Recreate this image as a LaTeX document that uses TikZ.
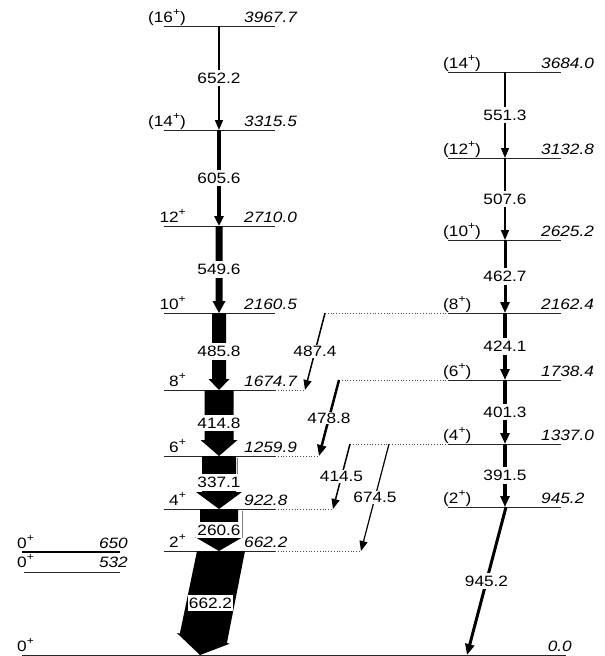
\documentclass[tikz,border=0pt]{standalone}
\usepackage{fontspec}
\setmainfont{Liberation Sans}[FakeStretch=1.15]
\usetikzlibrary{arrows.meta,calc}

\newcommand{\parity}{\raisebox{0.42em}{\fontsize{10.5}{11}\selectfont+}}
% wide transition: top, tip, half width, half head width, head length
\newcommand{\fatgamma}[5]{%
  \coordinate (hb) at ($(#2)!#5pt!(#1)$);
  \fill ($(#1)+(-#3,0)$) -- ($(hb)!#3pt!-90:(#2)$) -- ($(hb)!#4pt!-90:(#2)$) -- (#2)
    -- ($(hb)!#4pt!90:(#2)$) -- ($(hb)!#3pt!90:(#2)$) -- ($(#1)+(#3,0)$) -- cycle;
}

\begin{document}
\begin{tikzpicture}[
    x=1pt, y=-1pt,
    lvl/.style={line width=0.8pt, black!85},
    link/.style={dotted, line width=0.8pt, black!70},
    spin/.style={inner sep=0pt, font=\fontsize{15}{18}\selectfont},
    enrg/.style={inner sep=0pt, font=\fontsize{15}{18}\selectfont\itshape},
    tlab/.style={fill=white, inner xsep=1pt, inner ysep=3pt, font=\fontsize{15}{18}\selectfont},
    gam/.style={-{Triangle[length=10pt,width=8pt]}, line width=1.5pt},
    gamb/.style={-{Triangle[length=11pt,width=9pt]}, line width=3.5pt}
]
\useasboundingbox (0,0) rectangle (605,656);

% yrast band
\foreach \n/\y/\s/\e in {16/26/{(16\parity)}/3967.7, 14/130/{(14\parity)}/3315.5,
    12/226/{12\parity}/2710.0, 10/313/{10\parity}/2160.5, 8/390/{8\parity}/1674.7,
    6/456/{6\parity}/1259.9, 4/509/{4\parity}/922.8, 2/551/{2\parity}/662.2} {
  \coordinate (a\n) at (219,\y);
  \draw[lvl] ([xshift=-55pt]a\n) -- ([xshift=56pt]a\n);
  \node[spin, anchor=base east] (as\n) at (186,\y-4) {\s};
  \node[enrg, anchor=base west] (ae\n) at (244,\y-4) {\e};
}

% side band
\foreach \n/\y/\e in {14/72/3684.0, 12/158/3132.8, 10/240/2625.2, 8/313/2162.4,
    6/380/1738.4, 4/444/1337.0, 2/507/945.2} {
  \coordinate (b\n) at (505,\y);
  \draw[lvl] ([xshift=-57pt]b\n) -- ([xshift=56pt]b\n);
  \node[spin, anchor=base west] (bs\n) at (443,\y-4) {(\n\parity)};
  \node[enrg, anchor=base west] (be\n) at (541,\y-4) {\e};
}

% ground state and excited 0+ states
\coordinate (g0) at (22,655);
\coordinate (gA) at (200,655);
\coordinate (gB) at (467,655);
\draw[lvl] (g0) -- (566,655);
\node[spin, anchor=base west] (gs) at (17,651) {0\parity};
\node[enrg, anchor=base east] (ge) at (572,651) {0.0};
\coordinate (z650) at (22,552);
\draw[line width=1.2pt] (z650) -- (120,552);
\node[spin, anchor=base west] (zs650) at (17,548) {0\parity};
\node[enrg, anchor=base east] (ze650) at (128,548) {650};
\coordinate (z532) at (24,572);
\draw[lvl] (z532) -- (120,572);
\node[spin, anchor=base west] (zs532) at (17,567) {0\parity};
\node[enrg, anchor=base east] (ze532) at (128,567) {532};

% yrast transitions
\draw[gam] (a16) -- node[tlab] {652.2} (a14);
\draw[gam, line width=4pt, -{Triangle[length=10pt,width=9pt]}] (a14) -- node[tlab] {605.6} (a12);
\fatgamma{a12}{a10}{3.5}{6.5}{12}
\fatgamma{a10}{a8}{7}{10.5}{11}
\fatgamma{a8}{a6}{14.5}{18.5}{16}
\fatgamma{a6}{a4}{17}{23}{17}
\fatgamma{a4}{a2}{19}{24}{14}
\coordinate (a2s) at ([xshift=2pt]a2);
\fatgamma{a2s}{gA}{24}{27}{17}
\draw[black!50, line width=0.6pt] (237,458) -- (237,490);
\draw[black!50, line width=0.6pt] (242,511) -- (242,538);
\node[tlab] at ($(a12)!.5!(a10)$) {549.6};
\node[tlab] at ($(a10)!.5!(a8)$) {485.8};
\node[tlab] at ($(a8)!.5!(a6)$) {414.8};
\node[tlab] at ($(a6)!.5!(a4)$) {337.1};
\node[tlab] at ($(a4)!.5!(a2)$) {260.6};
\node[tlab] at ($(a2s)!.5!(gA)$) {662.2};

% side band transitions
\draw[gam, line width=1.2pt] (b14) -- node[tlab] {551.3} (b12);
\draw[gam] (b12) -- node[tlab] {507.6} (b10);
\draw[gamb, line width=3pt] (b10) -- node[tlab] {462.7} (b8);
\draw[gamb] (b8) -- node[tlab] {424.1} (b6);
\draw[gamb] (b6) -- node[tlab] {401.3} (b4);
\draw[gamb, line width=4pt] (b4) -- node[tlab] {391.5} (b2);
\draw[gamb, line width=3pt] ([xshift=1pt]b2) -- node[tlab] {945.2} (gB);

% interband transitions
\coordinate (t487a) at (325,313);
\coordinate (t487b) at (305,390);
\coordinate (t478a) at (339,380);
\coordinate (t478b) at (319,456);
\coordinate (t414a) at (350,444);
\coordinate (t414b) at (333,509);
\coordinate (t674a) at (389,444);
\coordinate (t674b) at (361,551);
\draw[link] (t487a) -- ([xshift=-57pt]b8);
\draw[link] (t478a) -- ([xshift=-57pt]b6);
\draw[link] (t414a) -- ([xshift=-57pt]b4);
\draw[link] ([xshift=56pt]a8) -- (t487b);
\draw[link] ([xshift=56pt]a6) -- (t478b);
\draw[link] ([xshift=56pt]a4) -- (t414b);
\draw[link] ([xshift=56pt]a2) -- (t674b);
\draw[gam] (t487a) -- node[tlab, inner ysep=1pt] {487.4} (t487b);
\draw[gam, line width=2.5pt, -{Triangle[length=11pt,width=9pt]}] (t478a) -- node[tlab, inner ysep=1pt] {478.8} (t478b);
\draw[gam] (t414a) -- node[tlab, inner ysep=1pt] {414.5} (t414b);
\draw[gam, line width=1.2pt] (t674a) -- node[tlab, inner ysep=1pt] {674.5} (t674b);
\end{tikzpicture}
\end{document}
